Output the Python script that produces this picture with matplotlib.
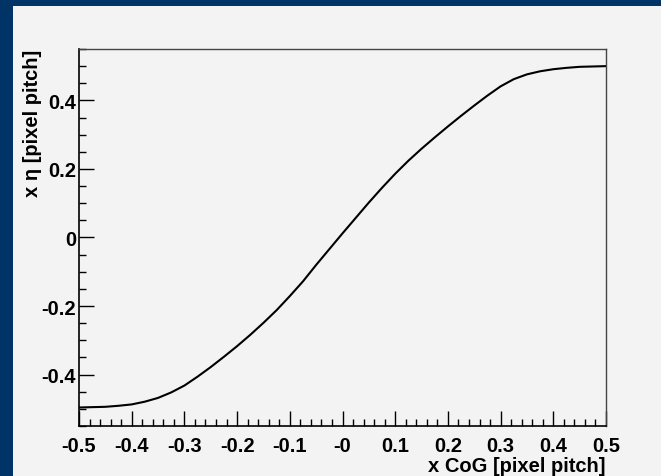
import numpy as np
import matplotlib
matplotlib.use("Agg")
import matplotlib.pyplot as plt
from matplotlib.patches import Rectangle
from matplotlib.ticker import MultipleLocator, FixedLocator, FixedFormatter

# ============================================================
# DATA
# ============================================================

x_cog = [
    -0.500, -0.475, -0.450, -0.425, -0.400, -0.375, -0.350, -0.325, -0.300,
    -0.275, -0.250, -0.225, -0.200, -0.175, -0.150, -0.125, -0.100, -0.075,
    -0.050, -0.025, 0.000, 0.025, 0.050, 0.075, 0.100, 0.125, 0.150, 0.175,
    0.200, 0.225, 0.250, 0.275, 0.300, 0.325, 0.350, 0.375, 0.400, 0.425,
    0.450, 0.475, 0.500,
]
x_eta = [
    -0.496, -0.495, -0.494, -0.491, -0.487, -0.479, -0.468, -0.452, -0.432,
    -0.406, -0.378, -0.348, -0.317, -0.284, -0.249, -0.212, -0.171, -0.128,
    -0.080, -0.034, 0.012, 0.057, 0.102, 0.145, 0.186, 0.224, 0.259, 0.292,
    0.324, 0.355, 0.385, 0.414, 0.441, 0.462, 0.476, 0.485, 0.491, 0.495,
    0.498, 0.499, 0.500,
]

x_ticks = [-0.5, -0.4, -0.3, -0.2, -0.1, 0.0, 0.1, 0.2, 0.3, 0.4, 0.5]
x_tick_labels = ["-0.5", "-0.4", "-0.3", "-0.2", "-0.1", "-0",
                 "0.1", "0.2", "0.3", "0.4", "0.5"]
y_ticks = [-0.4, -0.2, 0.0, 0.2, 0.4]
y_tick_labels = ["-0.4", "-0.2", "0", "0.2", "0.4"]

# ============================================================
# STYLE
# ============================================================

BG_BLUE = "#003366"
PANEL = "#f3f3f3"
FONT = "Liberation Sans"
FS = 14.5

plt.rcParams["font.family"] = [FONT, "DejaVu Sans"]

W, H = 661, 477
fig = plt.figure(figsize=(W / 100, H / 100), dpi=100, facecolor=BG_BLUE)

# light canvas on the blue slide background
fig.patches.append(Rectangle((13 / W, 0), 1 - 13 / W, 1 - 7 / H,
                             transform=fig.transFigure, facecolor=PANEL,
                             edgecolor="none", zorder=-5))

ax = fig.add_axes([79 / W, 1 - 427 / H, (606 - 79) / W, (427 - 50) / H])
ax.set_zorder(2)
ax.set_facecolor(PANEL)

ax.plot(x_cog, x_eta, color="black", lw=1.5, solid_joinstyle="round")

ax.set_xlim(-0.5, 0.5)
ax.set_ylim(-0.55, 0.55)

ax.xaxis.set_major_locator(FixedLocator(x_ticks))
ax.xaxis.set_major_formatter(FixedFormatter(x_tick_labels))
ax.xaxis.set_minor_locator(MultipleLocator(0.02))
ax.yaxis.set_major_locator(FixedLocator(y_ticks))
ax.yaxis.set_major_formatter(FixedFormatter(y_tick_labels))
ax.yaxis.set_minor_locator(MultipleLocator(0.05))

ax.tick_params(which="both", direction="in", top=False, right=False,
               color="black", width=1.0)
ax.tick_params(which="major", length=11)
ax.tick_params(which="minor", length=5)
ax.tick_params(axis="x", which="major", pad=7, labelsize=FS)
ax.tick_params(axis="y", which="major", pad=2, labelsize=FS)
for lab in ax.get_xticklabels() + ax.get_yticklabels():
    lab.set_fontweight("bold")

for side in ["left", "bottom"]:
    ax.spines[side].set_color("black")
    ax.spines[side].set_linewidth(1.2)
for side in ["top", "right"]:
    ax.spines[side].set_color("#444444")
    ax.spines[side].set_linewidth(1.0)

ax.set_xlabel("x CoG [pixel pitch]", loc="right", fontsize=FS,
              fontweight="bold")
ax.xaxis.set_label_coords(1.0, -0.080)
ax.set_ylabel("x \u03b7 [pixel pitch]", loc="top", fontsize=FS,
              fontweight="bold")
ax.yaxis.set_label_coords(-0.070, 1.0)

fig.savefig("out.png", dpi=100, facecolor=BG_BLUE)
